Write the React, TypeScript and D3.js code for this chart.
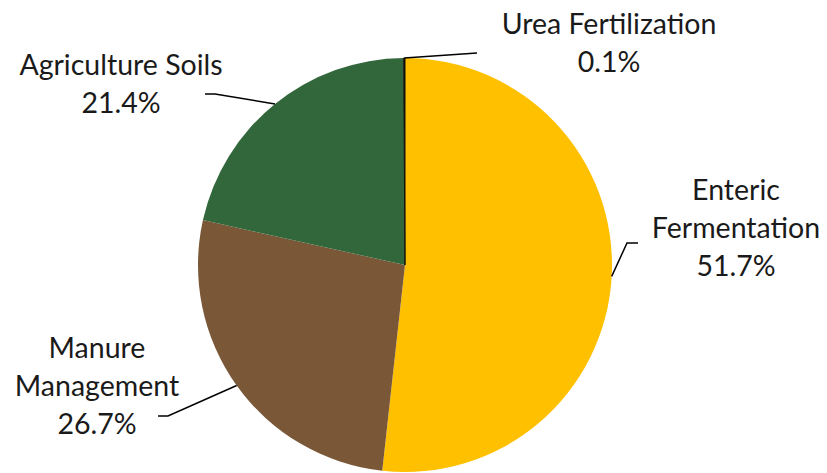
import React, { useEffect, useRef } from "react";
import * as d3 from "d3";

// agricultural emissions by source, percent of total
const categories = ["Enteric Fermentation", "Manure Management", "Agriculture Soils", "Urea Fertilization"];
const shares = [51.7, 26.7, 21.4, 0.1];
const sliceColors = ["#FFC000", "#7A5837", "#31673A", "#111111"];
const labelLines = [["Enteric", "Fermentation"], ["Manure", "Management"], ["Agriculture Soils"], ["Urea Fertilization"]];

// where each label sits: text centre, first baseline, leader elbow, leader end
const labelLayout = [
  { x: 736, y: 200, elbow: [627, 243], end: [638, 243] },
  { x: 97, y: 358, elbow: [168, 416], end: [158, 416] },
  { x: 121, y: 75, elbow: [215, 94], end: [205, 94] },
  { x: 609, y: 34, elbow: [477, 53], end: [477, 53] },
];

const width = 827;
const height = 473;
const cx = 405;
const cy = 265;
const radius = 207;
const lineGap = 38;

export default function App() {
  const ref = useRef<SVGSVGElement>(null);

  useEffect(() => {
    const svg = d3.select(ref.current);
    svg.selectAll("*").remove();

    const data = categories.map((name, i) => ({ name, value: shares[i], i }));
    const pie = d3.pie<any>().sort(null).value((d) => d.value);
    const arcs = pie(data);
    const arc = d3.arc<any>().innerRadius(0).outerRadius(radius);

    const g = svg.append("g").attr("transform", `translate(${cx},${cy})`);
    g.selectAll("path")
      .data(arcs)
      .enter()
      .append("path")
      .attr("d", arc)
      .attr("fill", (d) => sliceColors[d.data.i])
      .attr("stroke", (d) => (d.data.i === 3 ? sliceColors[3] : "none"))
      .attr("stroke-width", 1);

    // leader lines from the slice edge at mid angle
    arcs.forEach((a) => {
      const lay = labelLayout[a.data.i];
      const mid = (a.startAngle + a.endAngle) / 2;
      const sx = cx + Math.sin(mid) * radius;
      const sy = cy - Math.cos(mid) * radius;
      svg
        .append("polyline")
        .attr("points", `${sx},${sy} ${lay.elbow[0]},${lay.elbow[1]} ${lay.end[0]},${lay.end[1]}`)
        .attr("fill", "none")
        .attr("stroke", "#000")
        .attr("stroke-width", 1.5);

      const lines = [...labelLines[a.data.i], d3.format(".1f")(a.data.value) + "%"];
      const t = svg
        .append("text")
        .attr("x", lay.x)
        .attr("y", lay.y)
        .attr("text-anchor", "middle")
        .attr("font-family", "Lato, 'Open Sans', sans-serif")
        .attr("font-size", 28.5)
        .attr("fill", "#1a1a1a");
      lines.forEach((s, k) => {
        t.append("tspan").attr("x", lay.x).attr("y", lay.y + k * lineGap).text(s);
      });
    });
  }, []);

  return (
    <svg
      ref={ref}
      width={width}
      height={height}
      style={{ position: "absolute", left: 0, top: 0, background: "#fff" }}
    />
  );
}
